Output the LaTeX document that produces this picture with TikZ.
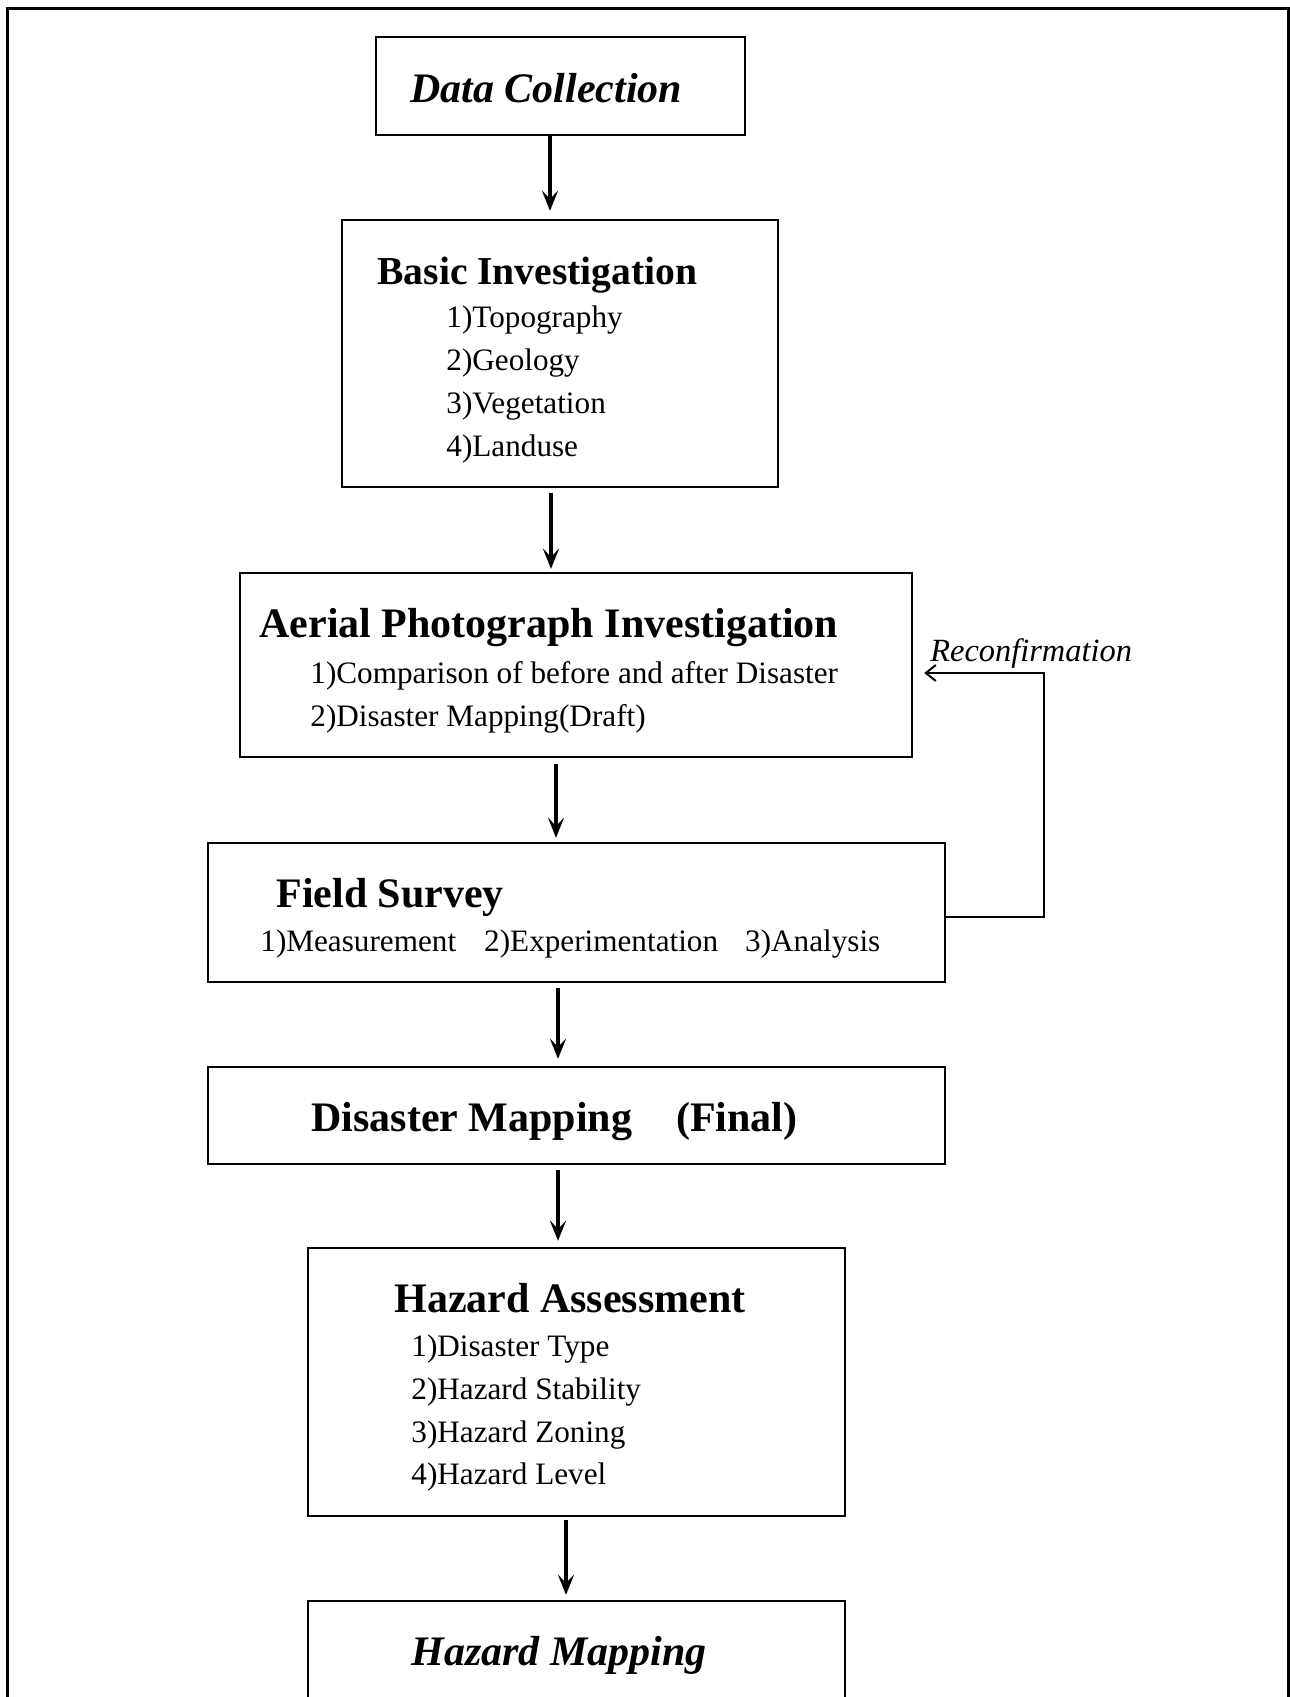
\documentclass[tikz,border=0pt]{standalone}
\usepackage{fontspec}
\setmainfont{Liberation Serif}
\usetikzlibrary{arrows.meta,calc}
\tikzset{
  box/.style={draw, line width=1.2pt, inner sep=0pt},
  arr/.style={line width=1.7pt, -{Stealth[length=10pt,width=8pt,inset=4pt]}},
  fbarr/.style={line width=1pt, -{Straight Barb[length=5pt,width=8pt]}},
  hb/.style={anchor=base west, inner sep=0pt, font=\fontsize{21pt}{24pt}\selectfont\bfseries},
  hbi/.style={anchor=base west, inner sep=0pt, font=\fontsize{21pt}{24pt}\selectfont\bfseries\itshape},
  itm/.style={anchor=base west, inner sep=0pt, font=\fontsize{15.6pt}{18pt}\selectfont},
  rc/.style={anchor=base west, inner sep=0pt, font=\fontsize{16.2pt}{18pt}\selectfont\itshape}
}
\begin{document}
\begin{tikzpicture}[x=0.5pt,y=-0.5pt]
\useasboundingbox (0,0) rectangle (1290,1697);
\clip (0,0) rectangle (1290,1697);
% outer frame
\draw[line width=1.5pt] (7,8) rectangle (1288,1800);
% boxes
\node[box, minimum width=184.5pt, minimum height=49pt] (dc) at (560.5,86) {};
\node[box, minimum width=218pt, minimum height=133.5pt] (bi) at (560,353.5) {};
\node[box, minimum width=336pt, minimum height=92pt] (ap) at (576,665) {};
\node[box, minimum width=368.5pt, minimum height=69.5pt] (fs) at (576.5,912.5) {};
\node[box, minimum width=368.5pt, minimum height=48.5pt] (dm) at (576.5,1115.5) {};
\node[box, minimum width=268.5pt, minimum height=134pt] (ha) at (576.5,1382) {};
\node[box, minimum width=268.5pt, minimum height=99.5pt] (hm) at (576.5,1700.5) {};
% texts
\node[hbi] (tdc) at (410,102.5) {Data Collection};
\node[hb, font=\fontsize{19.8pt}{24pt}\selectfont\bfseries] (tbi) at (377,284) {Basic Investigation};
\node[itm] (bi1) at (446,327) {1)Topography};
\node[itm] (bi2) at (446,370) {2)Geology};
\node[itm] (bi3) at (446,413) {3)Vegetation};
\node[itm] (bi4) at (446,456) {4)Landuse};
\node[hb] (tap) at (259,637) {Aerial Photograph Investigation};
\node[itm] (ap1) at (310,683) {1)Comparison of before and after Disaster};
\node[itm] (ap2) at (310,726) {2)Disaster Mapping(Draft)};
\node[hb] (tfs) at (276,907) {Field Survey};
\node[itm] (fs1) at (260,951) {1)Measurement\hspace{14pt}2)Experimentation\hspace{13.5pt}3)Analysis};
\node[hb] (tdm) at (311,1131) {Disaster Mapping\hspace{22pt}(Final)};
\node[hb] (tha) at (394,1312) {Hazard Assessment};
\node[itm] (ha1) at (411,1356) {1)Disaster Type};
\node[itm] (ha2) at (411,1399) {2)Hazard Stability};
\node[itm] (ha3) at (411,1442) {3)Hazard Zoning};
\node[itm] (ha4) at (411,1484) {4)Hazard Level};
\node[hbi] (thm) at (411,1665) {Hazard Mapping};
\node[rc] (trc) at (930,661) {Reconfirmation};
% arrows
\draw[arr, shorten >=4pt] ($(dc.south)+(-10.5,0)$) -- ($(bi.north)+(-10,0)$);
\draw[arr, shorten <=2.5pt, shorten >=1.5pt] ($(bi.south)+(-9,0)$) -- ($(ap.north)+(-25,0)$);
\draw[arr, shorten <=3pt, shorten >=2pt] ($(ap.south)+(-20,0)$) -- ($(fs.north)+(-20.5,0)$);
\draw[arr, shorten <=2.5pt, shorten >=3.5pt] ($(fs.south)+(-18.5,0)$) -- ($(dm.north)+(-18.5,0)$);
\draw[arr, shorten <=2.5pt, shorten >=3pt] ($(dm.south)+(-18.5,0)$) -- ($(ha.north)+(-18.5,0)$);
\draw[arr, shorten <=1.5pt, shorten >=2.5pt] ($(ha.south)+(-10.5,0)$) -- ($(hm.north)+(-10.5,0)$);
% feedback
\coordinate (fbA) at (1044,917);
\coordinate (fbB) at (1044,673);
\draw[fbarr, shorten >=5.5pt] (fs.east |- fbA) -- (fbA) -- (fbB) -- (ap.east |- fbB);
\end{tikzpicture}
\end{document}
